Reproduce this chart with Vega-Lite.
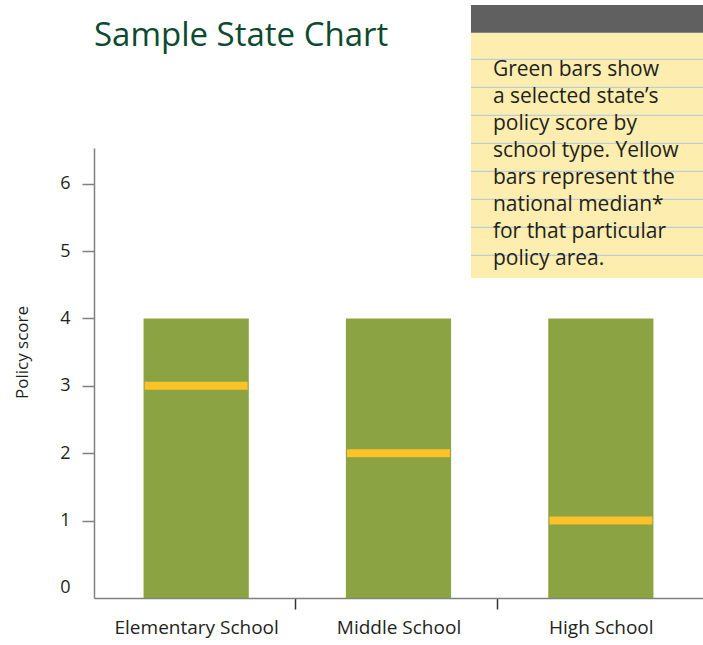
{
  "$schema": "https://vega.github.io/schema/vega-lite/v6.json",
  "autosize": {"type": "none"},
  "width": 609,
  "height": 450,
  "padding": {"left": 94, "top": 148, "right": 0, "bottom": 47},
  "background": "white",
  "config": {
    "view": {"stroke": null},
    "font": "Open Sans"
  },
  "title": {
    "text": "Sample State Chart",
    "anchor": "start",
    "frame": "group",
    "font": "Open Sans",
    "fontSize": 33,
    "fontWeight": "normal",
    "color": "#0B4A30",
    "baseline": "alphabetic",
    "offset": -74
  },
  "datasets": {
    "scores": [
      {"school": "Elementary School", "score": 4, "median": 3},
      {"school": "Middle School", "score": 4, "median": 2},
      {"school": "High School", "score": 4, "median": 1}
    ],
    "ruled": [
      {"line": 1}, {"line": 2}, {"line": 3}, {"line": 4},
      {"line": 5}, {"line": 6}, {"line": 7}, {"line": 8}
    ],
    "note": [
      {"text": "Green bars show\na selected state’s\npolicy score by\nschool type. Yellow\nbars represent the\nnational median*\nfor that particular\npolicy area."}
    ]
  },
  "layer": [
    {
      "data": {"name": "scores"},
      "encoding": {
        "x": {
          "field": "school",
          "type": "nominal",
          "sort": null,
          "scale": {"paddingInner": 0.48, "paddingOuter": 0.245},
          "axis": {
            "title": null,
            "labelAngle": 0,
            "labelFontSize": 19,
            "labelColor": "#231F20",
            "labelPadding": 9,
            "domainColor": "#808080",
            "domainWidth": 1.5,
            "tickColor": "#333333",
            "tickWidth": 1.5,
            "tickSize": 11,
            "tickOffset": -104,
            "labelOffset": 104,
            "tickOpacity": {"condition": {"test": "datum.value === 'Elementary School'", "value": 0}, "value": 1}
          }
        }
      },
      "layer": [
        {
          "mark": {"type": "bar", "color": "#8BA342"},
          "encoding": {
            "y": {
              "field": "score",
              "type": "quantitative",
              "scale": {"domain": [-0.15, 6.53], "nice": false, "zero": false},
              "axis": {
                "title": "Policy score",
                "titleFontSize": 17,
                "titleFontWeight": "normal",
                "titleColor": "#231F20",
                "titlePadding": 28,
                "titleY": 204,
                "values": [0, 1, 2, 3, 4, 5, 6],
                "format": "d",
                "labelFontSize": 18,
                "labelColor": "#231F20",
                "labelPadding": 12,
                "domainColor": "#808080",
                "domainWidth": 1.5,
                "tickColor": "#808080",
                "tickWidth": 1.5,
                "tickSize": 12,
                "grid": false,
                "tickOpacity": {"condition": {"test": "datum.value === 0", "value": 0}, "value": 1}
              }
            },
            "y2": {"datum": -0.15}
          }
        },
        {
          "mark": {"type": "tick", "color": "#FDC12A", "thickness": 8, "size": 103, "opacity": 1},
          "encoding": {
            "y": {"field": "median", "type": "quantitative"}
          }
        }
      ]
    },
    {
      "layer": [
        {
          "data": {"values": [{}]},
          "mark": {"type": "rect", "color": "#FDEEAF"},
          "encoding": {
            "x": {"datum": 0.619, "type": "quantitative", "scale": {"domain": [0, 1], "nice": false, "zero": false}, "axis": null},
            "x2": {"datum": 1},
            "y": {"datum": 0.05, "type": "quantitative", "scale": {"domain": [4.168, 20.24], "nice": false, "zero": false, "reverse": true}, "axis": null},
            "y2": {"datum": 8.81}
          }
        },
        {
          "data": {"values": [{}]},
          "mark": {"type": "rect", "color": "#606060"},
          "encoding": {
            "x": {"datum": 0.619, "type": "quantitative"},
            "x2": {"datum": 1},
            "y": {"datum": -0.94, "type": "quantitative"},
            "y2": {"datum": 0.05}
          }
        },
        {
          "data": {"name": "ruled"},
          "mark": {"type": "rule", "color": "#BCCFD3", "strokeWidth": 1.3},
          "encoding": {
            "x": {"datum": 0.619, "type": "quantitative"},
            "x2": {"datum": 1},
            "y": {"field": "line", "type": "quantitative"}
          }
        },
        {
          "data": {"name": "note"},
          "mark": {"type": "text", "align": "left", "baseline": "top", "fontSize": 21, "lineHeight": 27, "lineBreak": "\n", "color": "#231F20", "font": "Open Sans"},
          "encoding": {
            "x": {"datum": 0.655, "type": "quantitative"},
            "y": {"datum": 1.0, "type": "quantitative"},
            "text": {"field": "text", "type": "nominal"}
          }
        }
      ]
    }
  ],
  "resolve": {"scale": {"x": "independent", "y": "independent"}}
}
